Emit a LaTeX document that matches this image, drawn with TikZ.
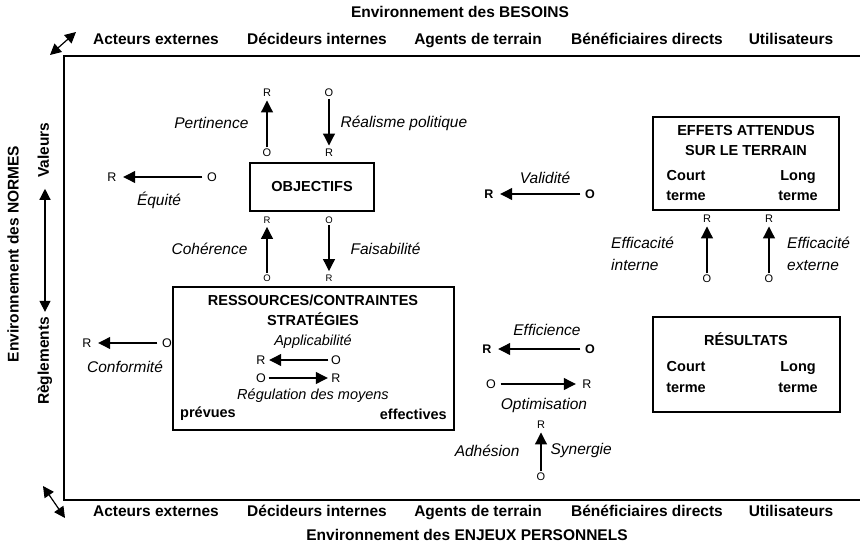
\documentclass[tikz,border=0pt]{standalone}
\usepackage{fontspec}
\setmainfont{Liberation Sans}
\usetikzlibrary{arrows.meta, positioning}

\begin{document}
\begin{tikzpicture}[x=1pt, y=-1pt,
    % --- STYLES ---
    env/.style={font=\fontsize{15.5}{18}\selectfont\bfseries, inner sep=1pt, text height=11pt, text depth=3.5pt},
    frame/.style={line width=1.4pt},
    box/.style={draw, line width=1.2pt, inner sep=0pt},
    title/.style={font=\fontsize{14.5}{20}\selectfont\bfseries, align=center, inner sep=1pt},
    crit/.style={font=\fontsize{15.5}{22}\selectfont\itshape, inner sep=1pt},
    critin/.style={font=\fontsize{14.5}{16}\selectfont\itshape, inner sep=1pt},
    letter/.style={font=\fontsize{12.5}{14}\selectfont, inner sep=1.5pt},
    letter small/.style={font=\fontsize{11}{12}\selectfont, inner sep=1.5pt},
    letter tiny/.style={font=\fontsize{9.5}{11}\selectfont, inner sep=1.5pt},
    letter bold/.style={font=\fontsize{12.5}{14}\selectfont\bfseries, inner sep=1.5pt},
    arrow/.style={-{Triangle[length=12pt, width=12pt]}, line width=1.2pt, shorten >=2pt},
    hor arrow/.style={arrow, shorten >=5pt, shorten <=3pt},
    in arrow/.style={arrow, shorten >=2pt, shorten <=1pt},
    twoway/.style={{Triangle[length=11pt, width=11pt]}-{Triangle[length=11pt, width=11pt]}, line width=1.2pt}
]
    \useasboundingbox (0,0) rectangle (860,551);

    % --- FRAME ---
    \coordinate (ftr) at (860,56);
    \coordinate (fbr) at (860,500);
    \draw[frame] (ftr) -| (64,500) -- (fbr);

    % corner arrows
    \coordinate (tla) at (50,55);
    \coordinate (tlb) at (76,32);
    \coordinate (bla) at (43,486);
    \coordinate (blb) at (65,518);
    \draw[twoway] (tla) -- (tlb);
    \draw[twoway] (bla) -- (blb);

    % --- ENVIRONMENTS ---
    \node[env] (besoins) at (460,13.5) {Environnement des BESOINS};
    \node[env] (top1) at (156,40.5) {Acteurs externes};
    \node[env] (top2) at (317,40.5) {Décideurs internes};
    \node[env] (top3) at (478,40.5) {Agents de terrain};
    \node[env] (top4) at (647,40.5) {Bénéficiaires directs};
    \node[env] (top5) at (791,40.5) {Utilisateurs};

    \node[env] (bot1) at (156,512.5) {Acteurs externes};
    \node[env] (bot2) at (317,512.5) {Décideurs internes};
    \node[env] (bot3) at (478,512.5) {Agents de terrain};
    \node[env] (bot4) at (647,512.5) {Bénéficiaires directs};
    \node[env] (bot5) at (791,512.5) {Utilisateurs};
    \node[env] (enjeux) at (467,536.5) {Environnement des ENJEUX PERSONNELS};

    \node[env, rotate=90] (normes) at (15,254) {Environnement des NORMES};
    \node[env, rotate=90] (valeurs) at (45,150) {Valeurs};
    \node[env, rotate=90] (reglements) at (45,361) {Règlements};
    \draw[twoway, shorten <=10pt, shorten >=4pt] (valeurs) -- (reglements);

    % --- BOXES ---
    \node[box, minimum width=124pt, minimum height=48pt] (obj) at (312,187) {};
    \node[title] (objtxt) at (312,187) {OBJECTIFS};

    \node[box, minimum width=281pt, minimum height=143pt] (ress) at (313.5,358.5) {};
    \node[title] (resstxt) at (313,310) {RESSOURCES/CONTRAINTES\\STRATÉGIES};
    \node[critin] (appl) at (313,342) {Applicabilité};
    \node[critin] (regul) at (313,396) {Régulation des moyens};
    \node[title, anchor=west] (prevues) at (179,414) {prévues};
    \node[title, anchor=east] (effectives) at (448,414) {effectives};

    \node[box, minimum width=186pt, minimum height=93pt] (effets) at (746,163.5) {};
    \node[title] (effetstxt) at (746,141) {EFFETS ATTENDUS\\SUR LE TERRAIN};
    \node[title] (effcourt) at (686,186) {Court\\terme};
    \node[title] (efflong) at (798,186) {Long\\terme};

    \node[box, minimum width=187pt, minimum height=95pt] (result) at (746.5,364.5) {};
    \node[title] (resulttxt) at (746,339) {RÉSULTATS};
    \node[title, font=\fontsize{14.5}{21}\selectfont\bfseries] (rescourt) at (686,377.5) {Court\\terme};
    \node[title, font=\fontsize{14.5}{21}\selectfont\bfseries] (reslong) at (798,377.5) {Long\\terme};

    % --- O / R ENDS ---
    \node[letter small] (pertO) at (267,153) {O};
    \node[letter small] (pertR) at (267,93) {R};
    \node[letter small] (realO) at (329,93) {O};
    \node[letter small] (realR) at (329,153) {R};

    \node[letter tiny] (cohO) at (267,278) {O};
    \node[letter tiny] (cohR) at (267,220) {R};
    \node[letter tiny] (faisO) at (329,220) {O};
    \node[letter tiny] (faisR) at (329,278) {R};

    \node[letter] (eqO) at (212,177) {O};
    \node[letter] (eqR) at (112,177) {R};
    \node[letter] (confO) at (167,343) {O};
    \node[letter] (confR) at (87,343) {R};

    \node[letter] (appO) at (336,360) {O};
    \node[letter] (appR) at (261,360) {R};
    \node[letter] (regO) at (261,378) {O};
    \node[letter] (regR) at (336,378) {R};

    \node[letter bold] (valO) at (590,194) {O};
    \node[letter bold] (valR) at (489,194) {R};
    \node[letter bold] (effcO) at (590,349) {O};
    \node[letter bold] (effcR) at (487,349) {R};
    \node[letter] (optO) at (491,384) {O};
    \node[letter] (optR) at (587,384) {R};

    \node[letter small] (adhO) at (541,477) {O};
    \node[letter small] (adhR) at (541,425) {R};

    \node[letter small] (intO) at (707,279) {O};
    \node[letter small] (intR) at (707,219) {R};
    \node[letter small] (extO) at (769,279) {O};
    \node[letter small] (extR) at (769,219) {R};

    % --- CRITERIA ---
    \draw[arrow] (pertO) -- node[crit, anchor=east, xshift=-17pt] {Pertinence} (pertR);
    \draw[arrow] (realO) -- node[crit, anchor=west, xshift=10pt] {Réalisme politique} (realR);
    \draw[arrow] (cohO) -- node[crit, anchor=east, xshift=-18pt] {Cohérence} (cohR);
    \draw[arrow] (faisO) -- node[crit, anchor=west, xshift=20pt] {Faisabilité} (faisR);

    \draw[hor arrow] (eqO) -- (eqR);
    \node[crit] (equite) at (159,200) {Équité};
    \draw[hor arrow] (confO) -- (confR);
    \node[crit] (conform) at (125,367) {Conformité};

    \draw[in arrow] (appO) -- (appR);
    \draw[in arrow] (regO) -- (regR);

    \draw[hor arrow] (valO) -- (valR);
    \node[crit] (valid) at (545,178) {Validité};
    \draw[hor arrow] (effcO) -- (effcR);
    \node[crit] (effic) at (547,330) {Efficience};
    \draw[hor arrow] (optO) -- (optR);
    \node[crit] (optim) at (544,405) {Optimisation};

    \draw[arrow] (adhO) -- node[crit, anchor=east, xshift=-20pt] {Adhésion}
        node[crit, anchor=west, xshift=8pt] {Synergie} (adhR);

    \draw[arrow] (intO) -- (intR);
    \draw[arrow] (extO) -- (extR);
    \node[crit, anchor=west, align=left] (effint) at (610,254) {Efficacité\\interne};
    \node[crit, anchor=west, align=left] (effext) at (786,254) {Efficacité\\externe};

\end{tikzpicture}
\end{document}
